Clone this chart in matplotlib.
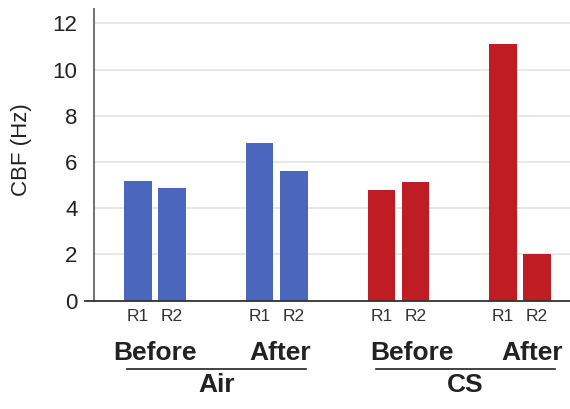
import numpy as np
import matplotlib
matplotlib.use('Agg')
from matplotlib import pyplot as plt

plt.rcParams['font.family'] = ['Liberation Sans', 'DejaVu Sans']

groups = ['Before', 'After', 'Before', 'After']
conditions = ['Air', 'CS']
r1_values = [5.18, 6.81, 4.77, 11.1]
r2_values = [4.89, 5.61, 5.15, 2.02]
group_colors = ['#4a67bd', '#4a67bd', '#c01c24', '#c01c24']
y_ticks = [0, 2, 4, 6, 8, 10, 12]

fig = plt.figure(figsize=(5.7, 4.09), dpi=100)
ax = fig.add_axes([0.1654, 0.2648, 0.8346, 0.7122])

x = np.arange(len(groups))
off = 0.14
width = 0.226

ax.bar(x - off, r1_values, width=width, color=group_colors, zorder=3)
ax.bar(x + off, r2_values, width=width, color=group_colors, zorder=3)

ax.set_xlim(-0.5, 3.41)
ax.set_ylim(0, 12.6)
ax.set_yticks(y_ticks)
ax.set_yticklabels([str(t) for t in y_ticks], fontsize=16, color='#222222')
ax.grid(axis='y', color='#e4e4e4', linewidth=1.2, zorder=0)
ax.tick_params(axis='y', length=0, pad=12)
ax.tick_params(axis='x', length=0, pad=6)

ax.set_xticks(np.concatenate([x - off, x + off]))
ax.set_xticklabels(['R1'] * 4 + ['R2'] * 4, fontsize=12.5, color='#333333')

for s in ['top', 'right']:
    ax.spines[s].set_visible(False)
ax.spines['left'].set_color('#777777')
ax.spines['left'].set_linewidth(1.5)
ax.spines['bottom'].set_visible(False)
ax.axhline(0, xmin=-0.02, xmax=1.0, color='#333333', linewidth=1.3,
           clip_on=False, zorder=4)

ax.set_ylabel('CBF (Hz)', fontsize=16, color='#222222')
ax.yaxis.set_label_coords(-0.131, 0.52)

trans = ax.get_xaxis_transform()
label_shift = [0.0, 0.03, 0.11, 0.1]
for xi, name, dx in zip(x, groups, label_shift):
    ax.text(xi + dx, -0.18, name, transform=trans, ha='center', va='center',
            fontsize=19, fontweight='bold', color='#222222')

spans = [(-0.235, 1.24), (1.815, 3.287)]
for (a, b), cond in zip(spans, conditions):
    ax.plot([a, b], [-0.2345, -0.2345], transform=trans, color='#222222',
            linewidth=1.2, clip_on=False)
    ax.text((a + b) / 2, -0.29, cond, transform=trans, ha='center',
            va='center', fontsize=19, fontweight='bold', color='#222222')

fig.savefig('out.png', dpi=100)
